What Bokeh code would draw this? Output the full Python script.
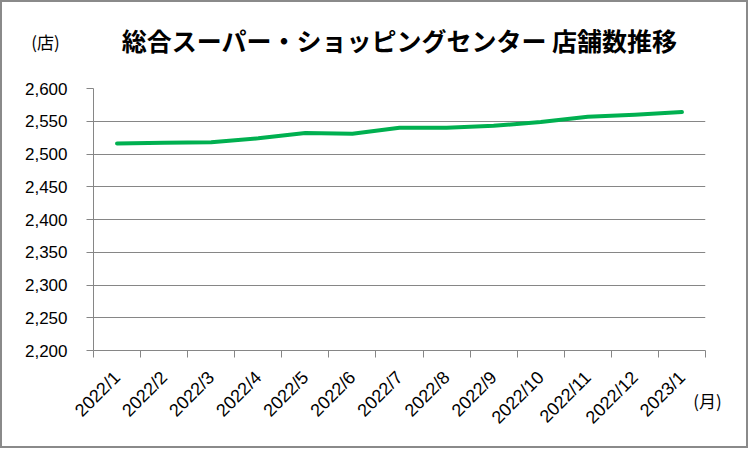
import math
from bokeh.plotting import figure
from bokeh.models import (Range1d, FixedTicker, NumeralTickFormatter, Label,
                          SingleIntervalTicker)
from bokeh.embed import file_html
from bokeh.resources import INLINE

months = ["2022/1", "2022/2", "2022/3", "2022/4", "2022/5", "2022/6", "2022/7",
          "2022/8", "2022/9", "2022/10", "2022/11", "2022/12", "2023/1"]
stores = [2516, 2517, 2518, 2524, 2532, 2531, 2540, 2540, 2543, 2549, 2557, 2560, 2564]
y_min, y_max, y_step = 2200, 2600, 50
title_text = "総合スーパー・ショッピングセンター 店舗数推移"
y_unit = "(店)"
x_unit = "(月)"

n = len(months)
xs = [i + 0.5 for i in range(n)]
bounds = [i for i in range(n + 1)]

GRAY = "#868686"
LATIN = "Liberation Sans"
CJK = "Noto Sans CJK JP"

p = figure(width=748, height=448, output_backend="svg", toolbar_location=None,
           x_range=Range1d(0, n), y_range=Range1d(y_min, y_max),
           min_border_left=91, min_border_right=45, min_border_top=86,
           min_border_bottom=100)
p.styles = {"border": "2px solid #8a8a8a"}
p.outline_line_color = None
p.background_fill_color = "white"
p.border_fill_color = "white"

p.line(xs, stores, line_color="#00B050", line_width=4, line_cap="round", line_join="round")

# y axis
p.yaxis.ticker = SingleIntervalTicker(interval=y_step)
p.yaxis.formatter = NumeralTickFormatter(format="0,0")
p.yaxis.axis_line_color = GRAY
p.yaxis.major_tick_line_color = GRAY
p.yaxis.major_tick_out = 7
p.yaxis.major_tick_in = 0
p.yaxis.minor_tick_line_color = None
p.yaxis.major_label_standoff = 19
p.yaxis.major_label_text_font = LATIN
p.yaxis.major_label_text_font_size = "17px"
p.yaxis.major_label_text_color = "black"

# x axis
p.xaxis.ticker = FixedTicker(ticks=xs, minor_ticks=bounds)
p.xaxis.major_label_overrides = {x: m for x, m in zip(xs, months)}
p.xaxis.axis_line_color = GRAY
p.xaxis.major_tick_line_color = None
p.xaxis.major_tick_out = 0
p.xaxis.major_tick_in = 0
p.xaxis.minor_tick_line_color = GRAY
p.xaxis.minor_tick_out = 7
p.xaxis.minor_tick_in = 0
p.xaxis.major_label_orientation = math.pi / 4
p.xaxis.major_label_standoff = 17
p.xaxis.major_label_text_font = LATIN
p.xaxis.major_label_text_font_size = "18px"
p.xaxis.major_label_text_color = "black"

p.xgrid.grid_line_color = None
p.ygrid.grid_line_color = GRAY
p.ygrid.grid_line_width = 1

p.title.text = title_text
p.title.align = "center"
p.title.text_font = CJK
p.title.text_font_style = "bold"
p.title.text_font_size = "25px"
p.title.text_color = "black"
p.title.standoff = 12

p.add_layout(Label(x=-48, y=47, x_units="screen", y_units="screen", text=y_unit,
                   text_font=CJK, text_font_size="17px",
                   text_align="center", text_baseline="middle", text_color="black"), "above")
p.add_layout(Label(x=2, y=-50, x_units="screen", y_units="screen", text=x_unit,
                   text_font=CJK, text_font_size="17px",
                   text_align="center", text_baseline="middle", text_color="black"), "right")

open("out.html", "w").write(file_html(p, INLINE))
